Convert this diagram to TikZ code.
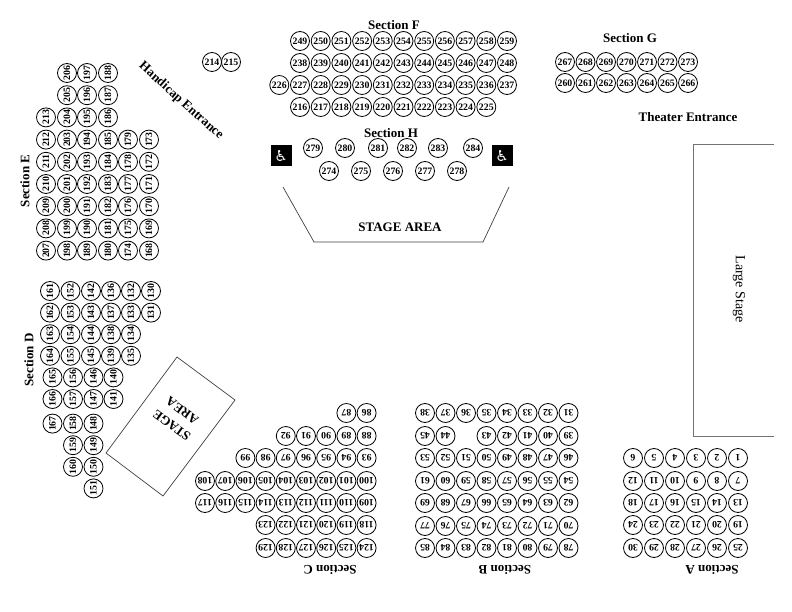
\documentclass[tikz,border=0pt]{standalone}
\usepackage{fontspec}
\setmainfont{Liberation Serif}
\newfontfamily\wcfont{DejaVu Sans}

\begin{document}
\begin{tikzpicture}[x=1pt,y=-1pt,
    seat/.style={circle,draw,line width=0.8pt,minimum size=19pt,inner sep=0pt,
      font=\fontsize{9.8}{9.8}\selectfont\bfseries},
    seatup/.style={seat,rotate=90},
    seatdown/.style={seat,rotate=180},
    seclabel/.style={font=\fontsize{13}{18}\selectfont\bfseries,inner sep=0pt},
    wheelchair/.style={fill=black,text=white,minimum size=21pt,inner sep=0pt,
      font=\wcfont\fontsize{15}{15}\selectfont},
    stageline/.style={draw=black!75,line width=0.7pt}]

    \useasboundingbox (0,0) rectangle (792,612);

    %draw section F
    \node[seclabel] (secF) at (394,25) {Section F};
    \foreach \y/\nfrom/\nto/\col in {41/249/259/0,63/238/248/0,85/226/237/-1,107/216/225/0} {
      \foreach \n in {\nfrom,...,\nto} {
        \node[seat] (seat\n) at ({300+20.7*(\n-\nfrom+\col)},\y) {\n};
      }
    }

    %draw section G
    \node[seclabel] (secG) at (630,38) {Section G};
    \foreach \y/\nfrom/\nto in {62/267/273,83/260/266} {
      \foreach \n in {\nfrom,...,\nto} {
        \node[seat] (seat\n) at ({565+20.5*(\n-\nfrom)},\y) {\n};
      }
    }
    \node[seclabel] (theater) at (688,117) {Theater Entrance};

    %draw section H
    \node[seclabel] (secH) at (391,133) {Section H};
    \foreach \n/\x in {279/313,280/345,281/378,282/407,283/438,284/473}
      \node[seat] (seat\n) at (\x,148) {\n};
    \foreach \n/\x in {274/329,275/361,276/393,277/425,278/457}
      \node[seat] (seat\n) at (\x,171) {\n};
    \node[wheelchair] (wcleft) at (281,156) {♿};
    \node[wheelchair] (wcright) at (502,156) {♿};

    %draw top stage
    \draw[stageline] (283,187) -- (314,242) -- (483,242) -- (509,187);
    \node[seclabel] (stagetop) at (400,227) {STAGE AREA};

    %draw handicap entrance
    \node[seclabel,rotate=-42] (handicap) at (181,101) {Handicap Entrance};
    \node[seat] (seat214) at (212,62) {214};
    \node[seat] (seat215) at (231,62) {215};

    %draw large stage
    \draw[draw=black!55,line width=0.8pt] (774,144) -- (693,144) -- (693,436) -- (774,436);
    \node[font=\fontsize{14}{14}\selectfont,rotate=-90] (largestage) at (739,289) {Large Stage};

    %draw section E
    \node[seclabel,rotate=90] (secE) at (25,181) {Section E};
    \foreach \x/\rfrom/\nfrom in {46/3/213,67/1/206,87/1/197,108/1/188,128/4/179,149/4/173} {
      \foreach \k in {\rfrom,...,9} {
        \pgfmathtruncatemacro{\n}{\nfrom+\rfrom-\k}
        \node[seatup] (seat\n) at (\x,{73+22.2*(\k-1)}) {\n};
      }
    }

    %draw section D
    \node[seclabel,rotate=90] (secD) at (29,360) {Section D};
    \foreach \x/\nfrom/\nto in {50/161/167,70.5/152/160,91/142/151,111/136/141,131/132/135,151/130/131} {
      \foreach \n [count=\k] in {\nfrom,...,\nto} {
        \node[seatup] (seat\n) at ({\x+2.5*(\k>=5)},{291+21.6*(\k-1)+3*(\k>=7)}) {\n};
      }
    }

    %draw left stage
    \draw[stageline] (177,357) -- (235,400) -- (163,496) -- (106,453) -- cycle;
    \node[seclabel,rotate=144,align=center] (stageleft) at (177,418) {STAGE\\AREA};

    %draw section C
    \foreach \y/\cmin/\nfrom in {413/8/86,436/5/88,458/3/93,481/1/100,503/1/109,525/4/118,548/4/124} {
      \foreach \col in {\cmin,...,9} {
        \pgfmathtruncatemacro{\n}{\nfrom+9-\col}
        \node[seatdown] (seat\n) at ({205+20.2*(\col-1)},\y) {\n};
      }
    }
    \node[seclabel,rotate=180] (secC) at (330,570) {Section C};

    %draw section B
    \foreach \y/\nfrom in {413/31,458/46,481/54,503/62,526/70,548/78} {
      \foreach \col in {1,...,8} {
        \pgfmathtruncatemacro{\n}{\nfrom+8-\col}
        \node[seatdown] (seat\n) at ({425+20.5*(\col-1)},\y) {\n};
      }
    }
    \foreach \n/\col in {45/1,44/2,43/4,42/5,41/6,40/7,39/8}
      \node[seatdown] (seat\n) at ({425+20.5*(\col-1)},436) {\n};
    \node[seclabel,rotate=180] (secB) at (505,570) {Section B};

    %draw section A
    \foreach \y/\nfrom in {458/1,481/7,503/13,525/19,548/25} {
      \foreach \col in {1,...,6} {
        \pgfmathtruncatemacro{\n}{\nfrom+6-\col}
        \node[seatdown] (seat\n) at ({633+21*(\col-1)},\y) {\n};
      }
    }
    \node[seclabel,rotate=180] (secA) at (712,570) {Section A};

\end{tikzpicture}
\end{document}
